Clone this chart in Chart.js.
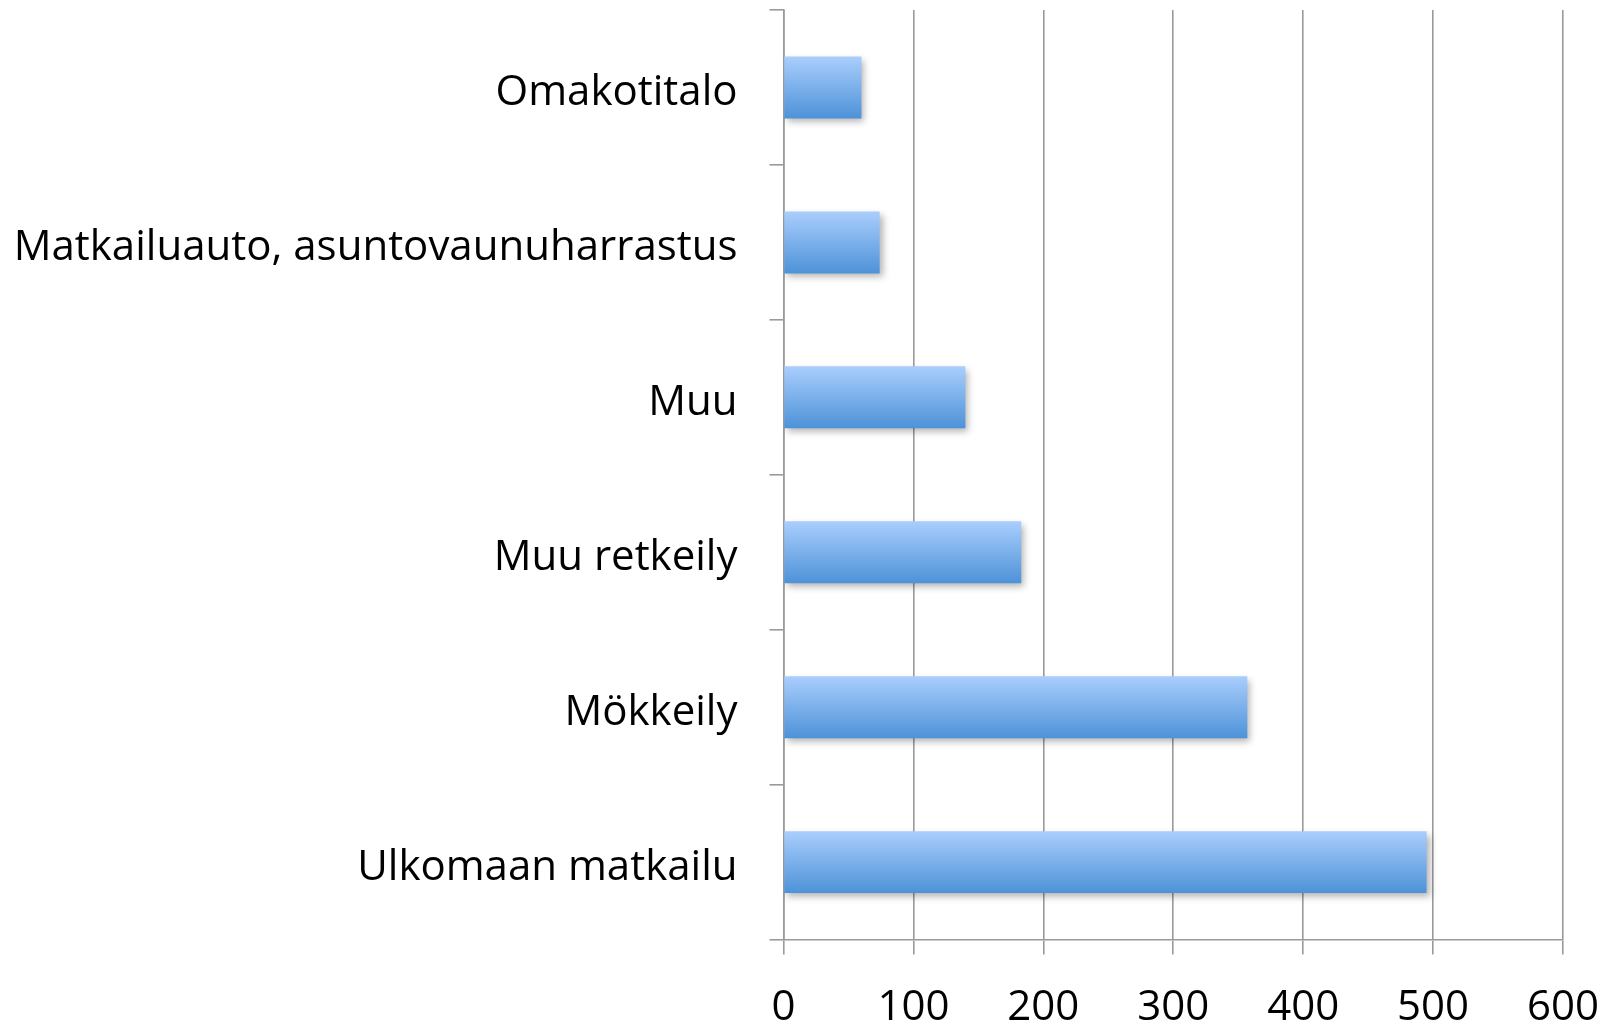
<!DOCTYPE html>
<html>
<head>
<meta charset="utf-8">
<script src="https://cdn.jsdelivr.net/npm/chart.js@4/dist/chart.umd.min.js"></script>
<style>
    html, body { margin: 0; padding: 0; background: #fff; }
    #wrap { width: 1606px; height: 1024px; position: relative; }
</style>
</head>
<body>
<div id="wrap"><canvas id="barChart"></canvas></div>
<script>
// categories in sheet order (first one is drawn at the bottom)
var categories = ['Ulkomaan matkailu', 'Mökkeily', 'Muu retkeily', 'Muu',
    'Matkailuauto, asuntovaunuharrastus', 'Omakotitalo'];
var counts = [495, 357, 183, 140, 74, 60];
var xTicks = [0, 100, 200, 300, 400, 500, 600];

var barPct = 0.4;
var axisGrey = '#9a9a9a';
var labelFont = { family: 'Open Sans', size: 42 };

function barGradient(ctx) {
    var chart = ctx.chart;
    var y = chart.scales.y;
    if (!y || ctx.dataIndex === undefined) return '#7fb0ec';
    var c = y.getPixelForValue(ctx.dataIndex);
    var half = Math.abs(y.getPixelForValue(1) - y.getPixelForValue(0)) * barPct / 2;
    if (!isFinite(c) || !isFinite(half) || half === 0) return '#7fb0ec';
    var g = chart.ctx.createLinearGradient(0, c - half, 0, c + half);
    g.addColorStop(0, '#aacefd');
    g.addColorStop(1, '#4d92d8');
    return g;
}

var barShadow = {
    id: 'barShadow',
    beforeDatasetsDraw: function (chart) {
        var c = chart.ctx;
        c.save();
        c.shadowColor = 'rgba(0,0,0,0.3)';
        c.shadowBlur = 7;
        c.shadowOffsetX = 3;
        c.shadowOffsetY = 4;
    },
    afterDatasetsDraw: function (chart) {
        chart.ctx.restore();
    }
};

new Chart(document.getElementById('barChart'), {
    type: 'bar',
    data: {
        labels: categories,
        datasets: [{
            data: counts,
            backgroundColor: barGradient,
            barPercentage: barPct,
            categoryPercentage: 1,
            borderWidth: 0
        }]
    },
    options: {
        indexAxis: 'y',
        responsive: true,
        maintainAspectRatio: false,
        animation: false,
        layout: { padding: { top: 10, right: 43, left: 4, bottom: -37 } },
        plugins: { legend: { display: false }, tooltip: { enabled: false } },
        scales: {
            x: {
                min: xTicks[0],
                max: xTicks[xTicks.length - 1],
                afterBuildTicks: function (s) {
                    s.ticks = xTicks.map(function (v) { return { value: v }; });
                },
                afterFit: function (s) {
                    s.paddingLeft = 0;
                    s.paddingRight = 0;
                },
                grid: { color: axisGrey, lineWidth: 1.6, tickLength: 15 },
                border: { color: axisGrey, width: 1.6 },
                ticks: {
                    color: '#000',
                    padding: 28,
                    font: labelFont
                }
            },
            y: {
                reverse: true,
                afterFit: function (s) {
                    s.paddingTop = 0;
                    s.paddingBottom = 0;
                },
                grid: {
                    drawOnChartArea: false,
                    color: axisGrey,
                    lineWidth: 1.6,
                    tickLength: 14,
                    offset: true
                },
                border: { color: axisGrey, width: 1.6 },
                ticks: {
                    color: '#000',
                    padding: 32,
                    labelOffset: 6,
                    font: labelFont
                }
            }
        }
    },
    plugins: [barShadow]
});
</script>
</body>
</html>
